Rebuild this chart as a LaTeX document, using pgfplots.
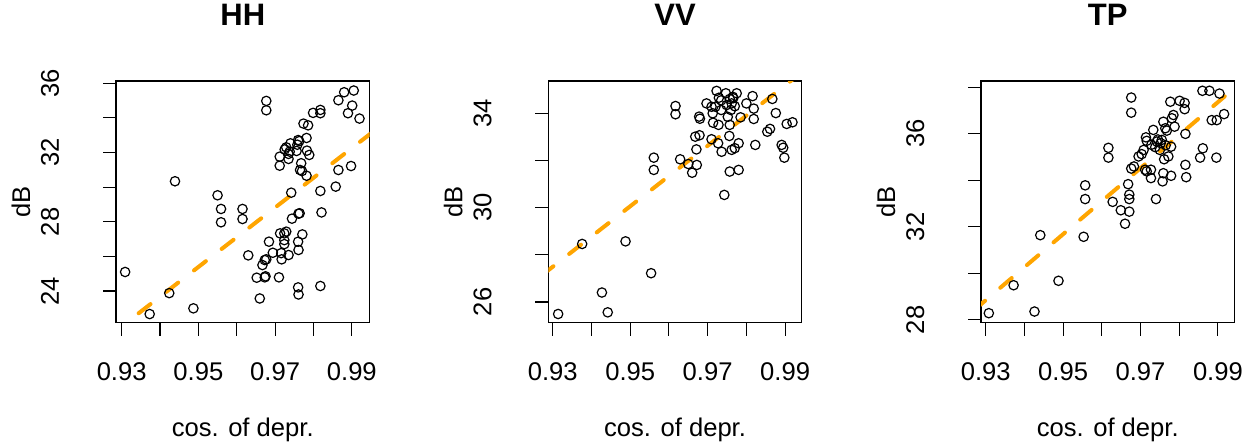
\documentclass[border=0pt]{standalone}
\usepackage{pgfplots}
\pgfplotsset{compat=1.18}
\usepackage{fontspec}
\setmainfont{Liberation Sans}
\definecolor{rorange}{HTML}{FFA500}
\pgfplotsset{
  rplot/.style={
    scale only axis, width=126.75pt, height=120.85pt,
    axis line style={line width=0.55pt},
    tick align=outside, xtick pos=bottom, ytick pos=left,
    major tick length=6.5pt,
    every tick/.style={line width=0.55pt, black},
    /pgf/number format/assume math mode=true,
    ticklabel style={font=\fontsize{12.8}{15}\selectfont},
    xticklabel style={anchor=base},
    xticklabel shift=22.15pt,
    yticklabel style={rotate=90, anchor=base},
    yticklabel shift=22pt,
    title style={font=\bfseries\fontsize{15.5}{18}\selectfont, at={(axis description cs:0.5,1)}, anchor=base, yshift=21.85pt},
    xlabel style={font=\fontsize{12.8}{15}\selectfont, at={(axis description cs:0.5,0)}, anchor=base, yshift=-56.95pt},
    ylabel style={font=\fontsize{12.8}{15}\selectfont, at={(axis description cs:-0.3392,0.5)}, anchor=base, rotate=0},
    xlabel={cos. of depr.}, ylabel={dB},
    xtick={0.93,0.94,0.95,0.96,0.97,0.98,0.99},
    xticklabels={0.93,,0.95,,0.97,,0.99},
    clip=true,
  },
  pts/.style={only marks, mark=o, mark size=2.35pt, mark options={line width=0.6pt, black}},
  fit/.style={rorange, line width=2pt, line cap=round, dash pattern=on 7.5pt off 10pt},
}
\begin{document}
\begin{tikzpicture}
\useasboundingbox (0,0) rectangle (625.5pt,-220.5pt);
% HH
\begin{axis}[rplot, at={(58pt,-161.35pt)}, anchor=south west,
  xmin=0.92852, xmax=0.99461, ymin=22.17, ymax=36.13,
  ytick={24,26,28,30,32,34,36}, yticklabels={24,,28,,32,,36},
  title={HH}]
\addplot[pts] coordinates {
(0.9309,25.10) (0.9373,22.67) (0.9424,23.88) (0.9439,30.34) (0.9487,23.00)
(0.9550,29.53) (0.9559,28.74) (0.9559,27.97) (0.9615,28.74) (0.9615,28.16)
(0.9630,26.06) (0.9677,34.98) (0.9677,34.44) (0.9652,24.77) (0.9660,23.57)
(0.9667,25.50) (0.9673,25.79) (0.9677,25.83) (0.9673,24.79) (0.9675,24.85)
(0.9684,26.85) (0.9694,26.21) (0.9710,24.79) (0.9716,26.19) (0.9717,25.83)
(0.9713,27.33) (0.9724,27.33) (0.9729,27.43) (0.9724,26.94) (0.9724,26.71)
(0.9735,26.08) (0.9744,28.18) (0.9742,29.68) (0.9761,28.47) (0.9764,28.49)
(0.9771,27.27) (0.9760,26.85) (0.9761,26.37) (0.9760,24.21) (0.9761,23.80)
(0.9818,29.78) (0.9821,28.54) (0.9818,24.29) (0.9858,30.03) (0.9865,30.99)
(0.9898,31.22) (0.9865,35.02) (0.9880,35.48) (0.9905,35.58) (0.9901,34.71)
(0.9890,34.27) (0.9920,33.96) (0.9799,34.29) (0.9818,34.46) (0.9818,34.27)
(0.9774,33.67) (0.9786,33.57) (0.9782,32.84) (0.9760,32.72) (0.9763,32.66)
(0.9740,32.53) (0.9729,32.30) (0.9725,32.18) (0.9735,31.92) (0.9712,31.76)
(0.9712,31.24) (0.9735,31.63) (0.9756,32.09) (0.9783,32.11) (0.9789,31.86)
(0.9768,31.38) (0.9765,30.99) (0.9770,30.93) (0.9782,30.66) (0.9738,32.05)
(0.9758,32.45)
};
\addplot[fit] coordinates {(0.92,20.24) (1.0,33.97)};
\end{axis}
% VV
\begin{axis}[rplot, at={(274.15pt,-161.35pt)}, anchor=south west,
  xmin=0.92886, xmax=0.99431, ymin=25.12, ymax=35.37,
  ytick={26,28,30,32,34}, yticklabels={26,,30,,34},
  title={VV}]
\addplot[pts] coordinates {
(0.9314,25.49) (0.9376,28.46) (0.9427,26.40) (0.9442,25.56) (0.9488,28.57)
(0.9554,27.22) (0.9561,32.12) (0.9561,31.60) (0.9617,34.31) (0.9617,33.96)
(0.9629,32.05) (0.9650,31.85) (0.9660,31.48) (0.9672,31.81) (0.9671,32.47)
(0.9668,33.01) (0.9679,33.07) (0.9678,33.86) (0.9680,33.77) (0.9697,34.42)
(0.9710,34.28) (0.9713,34.00) (0.9714,33.60) (0.9710,32.90) (0.9723,34.95)
(0.9729,34.66) (0.9735,34.14) (0.9728,33.51) (0.9727,32.73) (0.9736,32.37)
(0.9743,30.54) (0.9747,34.85) (0.9757,34.61) (0.9762,34.42) (0.9766,34.64)
(0.9775,34.85) (0.9760,34.14) (0.9757,33.51) (0.9756,33.04) (0.9762,32.45)
(0.9770,32.52) (0.9780,32.73) (0.9757,31.53) (0.9780,31.60) (0.9785,33.83)
(0.9800,34.42) (0.9816,34.73) (0.9819,34.20) (0.9819,33.76) (0.9823,32.66)
(0.9854,33.22) (0.9861,33.34) (0.9867,34.61) (0.9876,34.01) (0.9891,32.66)
(0.9895,32.54) (0.9898,32.12) (0.9904,33.55) (0.9919,33.62) (0.9749,34.35)
(0.9720,34.28) (0.9765,34.70) (0.9770,34.30) (0.9735,34.55) (0.9752,33.85)
};
\addplot[fit] coordinates {(0.92,26.21) (1.0,36.47)};
\end{axis}
% TP
\begin{axis}[rplot, at={(490.5pt,-161.35pt)}, anchor=south west,
  xmin=0.92878, xmax=0.99429, ymin=27.88, ymax=38.26,
  ytick={28,30,32,34,36,38}, yticklabels={28,,32,,36,},
  title={TP}]
\addplot[pts] coordinates {
(0.9308,28.29) (0.9372,29.49) (0.9426,28.36) (0.9441,31.64) (0.9488,29.68)
(0.9553,31.57) (0.9557,33.78) (0.9557,33.19) (0.9617,35.39) (0.9617,34.97)
(0.9628,33.07) (0.9649,32.71) (0.9660,32.13) (0.9671,32.65) (0.9671,33.19)
(0.9671,33.38) (0.9668,33.83) (0.9676,37.55) (0.9676,36.90) (0.9676,34.50)
(0.9683,34.59) (0.9695,35.02) (0.9703,35.12) (0.9708,35.30) (0.9714,35.84)
(0.9716,35.69) (0.9712,34.45) (0.9716,34.38) (0.9727,34.45) (0.9727,34.09)
(0.9740,33.19) (0.9733,36.16) (0.9728,35.52) (0.9738,35.42) (0.9742,35.66)
(0.9752,35.59) (0.9755,35.73) (0.9759,36.51) (0.9764,36.23) (0.9768,36.13)
(0.9761,34.90) (0.9759,34.30) (0.9757,33.95) (0.9772,35.02) (0.9779,34.19)
(0.9777,37.37) (0.9781,36.66) (0.9785,36.80) (0.9788,36.30) (0.9779,35.44)
(0.9801,37.41) (0.9814,37.32) (0.9814,37.05) (0.9816,35.99) (0.9816,34.66)
(0.9818,34.13) (0.9854,34.97) (0.9861,35.37) (0.9860,37.84) (0.9878,37.84)
(0.9904,37.72) (0.9884,36.58) (0.9897,36.58) (0.9916,36.84) (0.9896,34.97)
(0.9745,35.75) (0.9750,35.30) (0.9765,35.50)
};
\addplot[fit] coordinates {(0.92,27.43) (1.0,38.77)};
\end{axis}
\end{tikzpicture}
\end{document}
